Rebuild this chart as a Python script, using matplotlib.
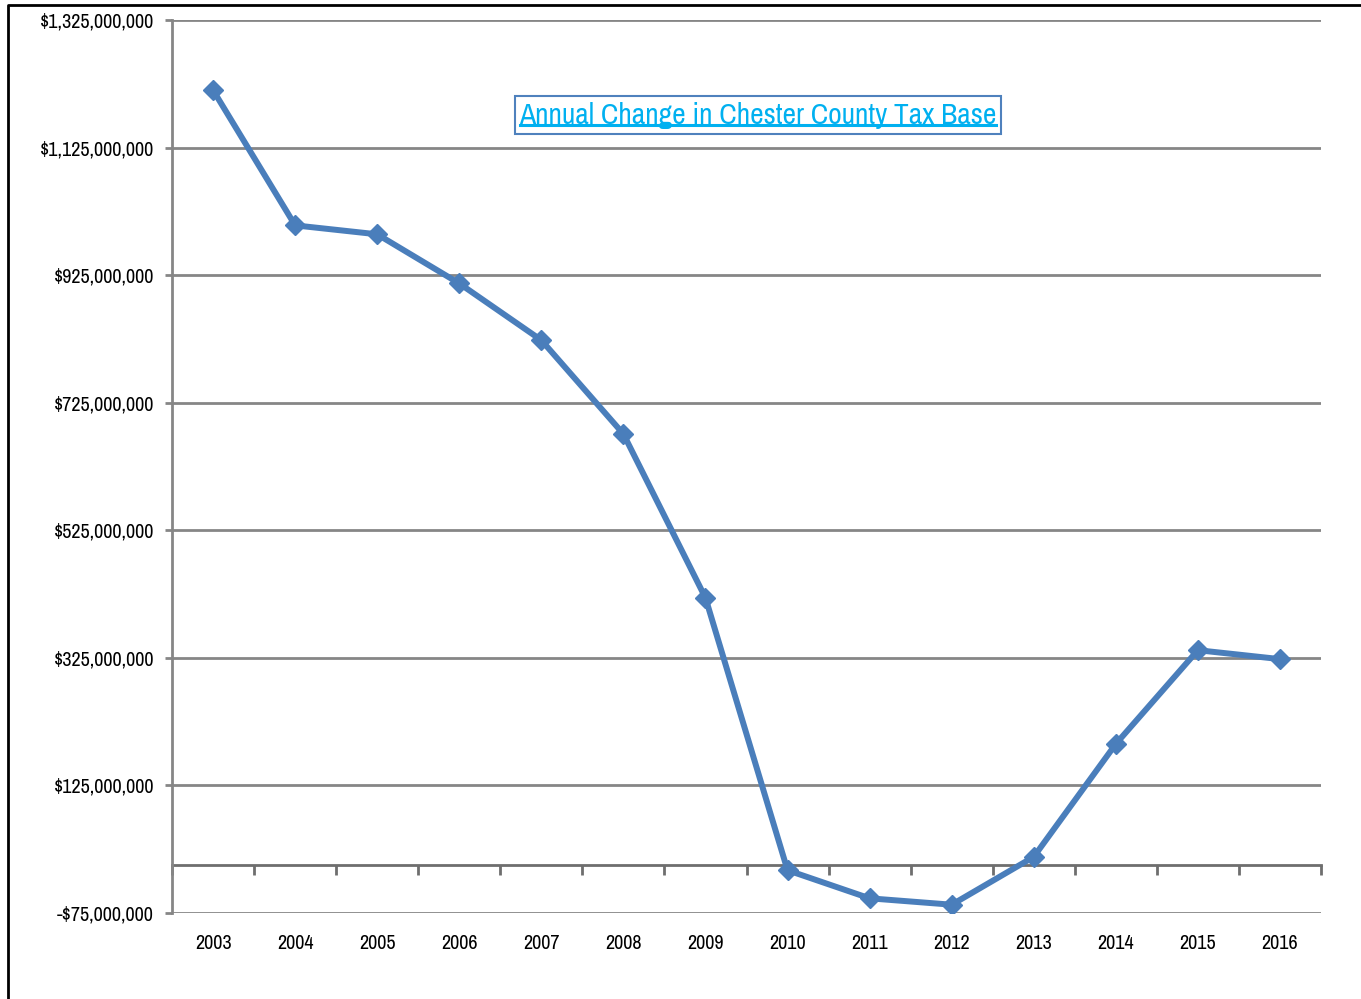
# -*- coding: utf-8 -*-

import numpy as np
import matplotlib
matplotlib.use("Agg")
import matplotlib.pyplot as plt
import matplotlib.ticker as tick
from matplotlib.lines import Line2D
from matplotlib.patches import Rectangle

# ---- style ------------------------------------------------------------------
plt.rcParams["font.family"] = ["Archivo Narrow", "Liberation Sans", "DejaVu Sans"]
plt.rcParams["font.size"] = 14

GRID_COL = "#868686"
AXIS_COL = "#6e6e6e"
LINE_COL = "#4a7ebb"
TITLE_COL = "#00b0f0"
BOX_COL = "#4f81bd"

# ---- data -------------------------------------------------------------------
years = ["2003", "2004", "2005", "2006", "2007", "2008", "2009",
         "2010", "2011", "2012", "2013", "2014", "2015", "2016"]
change = [1215e6, 1003e6, 989e6, 912e6, 823e6, 676e6, 419e6,
          -8e6, -52e6, -62e6, 13e6, 190e6, 337e6, 323e6]
y_ticks = [-75e6, 125e6, 325e6, 525e6, 725e6, 925e6, 1125e6, 1325e6]
title = "Annual Change in Chester County Tax Base"

Y_MIN = -75e6
Y_MAX = 1325e6
# -----------------------------------------------------------------------------


def money(v, pos=None):
    if v < 0:
        return "-${:,.0f}".format(-v)
    return "${:,.0f}".format(v)


fig = plt.figure(figsize=(13.61, 9.99), dpi=100)
ax = fig.add_axes([0.1264, 0.0861, 0.8442, 0.8939])

x = np.arange(len(years))
ax.plot(x, change, color=LINE_COL, lw=4.3, marker="D", markersize=10.5,
        markeredgecolor=LINE_COL, markerfacecolor=LINE_COL, zorder=5)

ax.set_xlim(-0.5, len(years) - 0.5)
ax.set_ylim(Y_MIN, Y_MAX)

# y axis
ax.set_yticks(y_ticks)
ax.yaxis.set_major_formatter(tick.FuncFormatter(money))
ax.tick_params(axis="y", direction="out", length=5, width=2, color=GRID_COL,
               pad=8, labelsize=14.5)
ax.yaxis.grid(True, color=GRID_COL, lw=2)
ax.set_axisbelow(True)

# x labels at bottom, no tick marks
ax.set_xticks(x)
ax.set_xticklabels(years)
ax.tick_params(axis="x", length=0, pad=15, labelsize=14.5)

for s in ["top", "right", "bottom"]:
    ax.spines[s].set_visible(False)
ax.spines["left"].set_color(GRID_COL)
ax.spines["left"].set_linewidth(2)

# category axis crossing at zero with boundary ticks
zero_pos = (0 - Y_MIN) / (Y_MAX - Y_MIN)
sec = ax.secondary_xaxis(zero_pos)
sec.set_xticks(np.arange(len(years) + 1) - 0.5)
sec.set_xticklabels([])
sec.tick_params(axis="x", direction="out", length=7, width=2, color=AXIS_COL)
sec.spines["bottom"].set_color(AXIS_COL)
sec.spines["bottom"].set_linewidth(2)
sec.set_zorder(1)

# title box with underlined text
t = fig.text(0.557, 0.884, title, color=TITLE_COL, fontsize=21.3,
             ha="center", va="center", zorder=9)
fig.canvas.draw()
bb = t.get_window_extent()
fig.add_artist(Rectangle((bb.x0 - 4, bb.y0 - 5), bb.width + 8, bb.height + 11,
                         transform=None, facecolor="white", edgecolor=BOX_COL,
                         lw=1.5, zorder=8))
uy = bb.y0 + 4
fig.add_artist(Line2D([bb.x0 + 1, bb.x1 - 1], [uy, uy], transform=None,
                      color=TITLE_COL, lw=2.2, zorder=10))

# outer frame (left and top)
fig.add_artist(Line2D([8 / 1361, 8 / 1361, 1.0], [0.0, 1 - 5 / 999, 1 - 5 / 999],
                      transform=fig.transFigure, color="black", lw=2))

fig.savefig("out.png", dpi=100)
